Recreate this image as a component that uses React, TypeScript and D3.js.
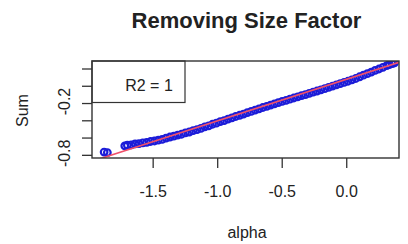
import React from "react";
import * as d3 from "d3";

const alphaVals = [
  -1.88, -1.855, -1.72, -1.70, -1.67, -1.64, -1.61, -1.58, -1.55, -1.52, -1.49, -1.46, -1.43, -1.40,
  -1.37, -1.34, -1.31, -1.28, -1.25, -1.22, -1.19, -1.16, -1.13, -1.10, -1.07, -1.04, -1.01,
  -0.98, -0.95, -0.92, -0.89, -0.86, -0.83, -0.80, -0.77, -0.74, -0.71, -0.68, -0.65, -0.62,
  -0.59, -0.56, -0.53, -0.50, -0.47, -0.44, -0.41, -0.38, -0.35, -0.32, -0.29, -0.26, -0.23,
  -0.20, -0.17, -0.14, -0.11, -0.08, -0.05, -0.02, 0.01, 0.04, 0.07, 0.10, 0.13, 0.16, 0.19,
  0.22, 0.25, 0.28, 0.31, 0.33, 0.35, 0.36, 0.37,
];
const sumVals = [
  -0.762, -0.768, -0.690, -0.682, -0.678, -0.668, -0.664, -0.655, -0.650, -0.640, -0.634, -0.625, -0.616, -0.600,
  -0.588, -0.578, -0.566, -0.556, -0.541, -0.530, -0.514, -0.502, -0.488, -0.470, -0.458, -0.440, -0.428,
  -0.410, -0.398, -0.380, -0.366, -0.350, -0.336, -0.322, -0.305, -0.292, -0.276, -0.262, -0.246, -0.232,
  -0.218, -0.204, -0.190, -0.176, -0.164, -0.150, -0.136, -0.122, -0.108, -0.096, -0.082, -0.068, -0.055,
  -0.041, -0.028, -0.012, 0.002, 0.016, 0.030, 0.044, 0.058, 0.074, 0.090, 0.110, 0.128, 0.146, 0.164,
  0.184, 0.200, 0.220, 0.238, 0.250, 0.262, 0.268, 0.272,
];
const fitIntercept = [0.082];
const fitSlope = [0.482];
const xTicks = [-1.5, -1.0, -0.5, 0.0];
const xTickLabels = ["-1.5", "-1.0", "-0.5", "0.0"];
const yTicks = [0.2, 0.0, -0.2, -0.4, -0.6, -0.8];
const yLabelTicks = [-0.2, -0.8];
const yTickLabels = ["-0.2", "-0.8"];
const title = "Removing Size Factor";
const xTitle = "alpha";
const yTitle = "Sum";
const legendText = "R2 = 1";

export default function App() {
  const W = 408, H = 244;
  const left = 92, right = 399, top = 61, bottom = 158;
  const x = d3.scaleLinear().domain([-1.974, 0.405]).range([left, right]);
  const y = d3.scaleLinear().domain([-0.831, 0.2927]).range([bottom, top]);
  const font = "'Liberation Sans', Arial, sans-serif";
  const [x0, x1] = x.domain();
  const lineGen = d3.line<number>().x((a) => x(a)).y((a) => y(fitIntercept[0] + fitSlope[0] * a));
  const pts = alphaVals.map((a, i) => ({ a, s: sumVals[i] }));
  return (
    <svg width={W} height={H} style={{ position: "absolute", left: 0, top: 0, background: "#fff" }}>
      <defs>
        <clipPath id="plotclip">
          <rect x={left} y={top} width={right - left} height={bottom - top} />
        </clipPath>
      </defs>
      <text x={(left + right) / 2 + 1} y={28} textAnchor="middle" fontFamily={font} fontWeight="bold" fontSize={22} fill="#222">
        {title}
      </text>
      <g clipPath="url(#plotclip)">
        {pts.map((p, i) => (
          <circle key={i} cx={x(p.a)} cy={y(p.s)} r={3.3} fill="none" stroke="#1c1cd8" strokeWidth={2.2} />
        ))}
        <path d={lineGen([x0, x1]) || ""} stroke="#f0506a" strokeWidth={1.6} fill="none" />
      </g>
      <rect x={left} y={top} width={right - left} height={bottom - top} fill="none" stroke="#333" strokeWidth={1.4} />
      <rect x={left} y={top} width={93} height={41.5} fill="none" stroke="#333" strokeWidth={1.2} />
      <text x={149} y={91} textAnchor="middle" fontFamily={font} fontSize={16} fill="#222">
        {legendText}
      </text>
      {xTicks.map((t, i) => (
        <g key={i}>
          <line x1={x(t)} x2={x(t)} y1={bottom} y2={bottom + 10} stroke="#333" strokeWidth={1.3} />
          <text x={x(t)} y={197} textAnchor="middle" fontFamily={font} fontSize={16} fill="#222">
            {xTickLabels[i]}
          </text>
        </g>
      ))}
      {yTicks.map((t, i) => (
        <line key={i} x1={left - 10} x2={left} y1={y(t)} y2={y(t)} stroke="#333" strokeWidth={1.3} />
      ))}
      {yLabelTicks.map((t, i) => (
        <text key={i} transform={`translate(70,${y(t) - 2}) rotate(-90)`} textAnchor="middle" fontFamily={font} fontSize={16} fill="#222">
          {yTickLabels[i]}
        </text>
      ))}
      <text x={247} y={238} textAnchor="middle" fontFamily={font} fontSize={16} fill="#222">
        {xTitle}
      </text>
      <text transform={`translate(28,${(top + bottom) / 2 + 1}) rotate(-90)`} textAnchor="middle" fontFamily={font} fontSize={16} fill="#222">
        {yTitle}
      </text>
    </svg>
  );
}
